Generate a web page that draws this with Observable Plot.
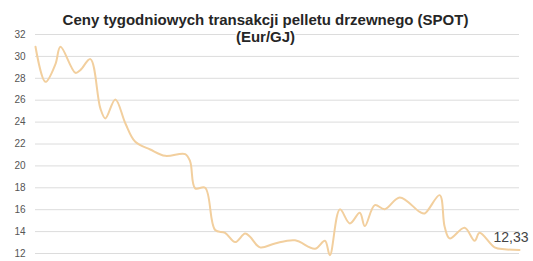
<!DOCTYPE html>
<html>
<head>
<meta charset="utf-8">
<script src="https://cdn.jsdelivr.net/npm/d3@7"></script>
<script src="https://cdn.jsdelivr.net/npm/@observablehq/plot@0.6"></script>
<style>
  html, body { margin: 0; padding: 0; background: #fff; }
  #chart { width: 533px; height: 261px; }
</style>
</head>
<body>
<div id="chart"></div>
<script>
const titleLines = ["Ceny tygodniowych transakcji pelletu drzewnego (SPOT)", "(Eur/GJ)"];
const yTicks = [12, 14, 16, 18, 20, 22, 24, 26, 28, 30, 32];
const weeks = [0, 2, 4, 5, 8, 9, 11, 13, 14, 16, 18, 20, 23, 26, 30, 31, 32, 34, 36, 38, 40, 42, 43, 45, 48, 52, 56, 58, 59, 61, 63, 65, 66, 68, 70, 73, 77, 78, 81, 82, 83, 86, 88, 89, 92, 94, 97];
const prices = [30.88, 27.68, 29.3, 30.88, 28.5, 28.75, 29.75, 25.25, 24.34, 26.07, 23.9, 22.2, 21.5, 20.92, 21.08, 20.4, 17.95, 18.0, 14.14, 13.89, 13.04, 13.83, 13.52, 12.56, 12.92, 13.2, 12.43, 13.16, 11.85, 16.03, 14.75, 15.72, 14.5, 16.42, 16.05, 17.12, 15.8, 15.66, 17.33, 14.44, 13.38, 14.35, 13.16, 13.89, 12.56, 12.38, 12.33];
const lastLabel = "12,33";

const data = weeks.map((w, i) => ({week: w, price: prices[i]}));
const last = data[data.length - 1];

const plot = Plot.plot({
  width: 533,
  height: 261,
  marginLeft: 35,
  marginRight: 14,
  marginTop: 34,
  marginBottom: 8,
  style: {fontFamily: "'Liberation Sans', Arial, sans-serif", background: "#fff"},
  x: {domain: [0, 97], axis: null},
  y: {domain: [12, 32], ticks: yTicks, tickSize: 0, tickPadding: 10, label: null, tickFormat: d => String(d)},
  marks: [
    Plot.gridY(yTicks, {stroke: "#dcdcdc", strokeOpacity: 1, strokeWidth: 1}),
    Plot.axisY(yTicks, {tickSize: 0, tickPadding: 10, fontSize: 10, fill: "#555", label: null}),
    Plot.line(data, {x: "week", y: "price", curve: "catmull-rom", stroke: "#f2cf9e", strokeWidth: 2}),
    Plot.text([last], {x: "week", y: "price", text: () => lastLabel, textAnchor: "end", dx: 9, dy: -12, fontSize: 14, fill: "#444"}),
    Plot.text([titleLines.join("\n")], {frameAnchor: "top", dx: -12, dy: -21, lineHeight: 1.1, fontSize: 15, fontWeight: "bold", fill: "#262626", stroke: "white", strokeWidth: 3, paintOrder: "stroke", lineAnchor: "top"})
  ]
});
document.getElementById("chart").appendChild(plot);
</script>
</body>
</html>
